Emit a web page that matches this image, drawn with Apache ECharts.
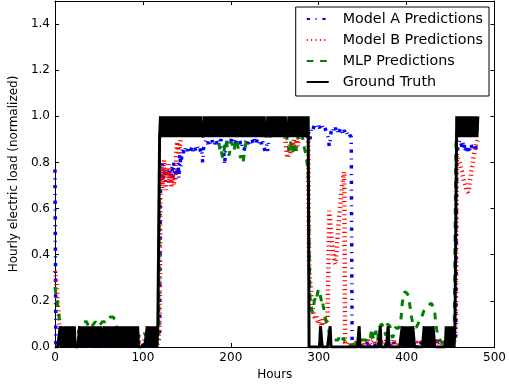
<!DOCTYPE html>
<html>
<head>
<meta charset="utf-8">
<script src="https://cdn.jsdelivr.net/npm/echarts@6/dist/echarts.min.js"></script>
<style>
  html, body { margin: 0; padding: 0; background: #fff; }
  #chart { width: 509px; height: 386px; }
</style>
</head>
<body>
<div id="chart"></div>
<script>
// Hourly normalized load, one value per hour starting at hour 0.
const seriesNames = ['Model A Predictions', 'Model B Predictions', 'MLP Predictions', 'Ground Truth'];
const xTicks = [0, 100, 200, 300, 400, 500];
const yTicks = [0.0, 0.2, 0.4, 0.6, 0.8, 1.0, 1.2, 1.4];

const modelA = [
  0.77,0.01,0.01,0,0.01,0.01,0,0.01,0.01,0.01,
  0.01,0.01,0,0.01,0.02,0.01,0.01,0,0.01,0.01,
  0.01,0,0.01,0.01,0.01,0,0.01,0.01,0.02,0.01,
  0.01,0.01,0,0.01,0.01,0.01,0.02,0.01,0.01,0,
  0.01,0.01,0.01,0,0.01,0.02,0.01,0.01,0.01,0.01,
  0,0.01,0.01,0.01,0.02,0.01,0,0.01,0.01,0.01,
  0.01,0.02,0.01,0.01,0,0.01,0.01,0.01,0.01,0.02,
  0.01,0.01,0,0.01,0.01,0.01,0.01,0.02,0.01,0,
  0.01,0.01,0.01,0.02,0.01,0.01,0,0.01,0.01,0.01,
  0.01,0,0.01,0.01,0.01,0.02,0.01,0.01,0.01,0,
  0.01,0.01,0.02,0.01,0.01,0,0.01,0.01,0.01,0.01,
  0.01,0.01,0,0.01,0.01,0.02,0.01,0.01,0.02,0.05,
  0.74,0.76,0.8,0.73,0.78,0.75,0.72,0.77,0.76,0.74,
  0.77,0.75,0.73,0.79,0.72,0.8,0.76,0.74,0.78,0.75,
  0.8,0.73,0.85,0.78,0.82,0.86,0.84,0.86,0.85,0.87,
  0.86,0.85,0.87,0.86,0.84,0.86,0.87,0.85,0.86,0.87,
  0.85,0.86,0.87,0.86,0.85,0.86,0.84,0.85,0.8,0.86,
  0.88,0.89,0.9,0.89,0.88,0.9,0.89,0.88,0.9,0.89,
  0.9,0.88,0.89,0.9,0.88,0.89,0.9,0.88,0.89,0.9,
  0.88,0.86,0.84,0.79,0.85,0.88,0.89,0.9,0.88,0.89,
  0.9,0.89,0.88,0.9,0.89,0.88,0.89,0.9,0.88,0.89,
  0.9,0.88,0.89,0.87,0.86,0.85,0.87,0.89,0.9,0.88,
  0.89,0.9,0.88,0.89,0.9,0.89,0.88,0.9,0.89,0.88,
  0.9,0.89,0.88,0.9,0.89,0.88,0.9,0.87,0.86,0.85,
  0.86,0.88,0.85,0.89,0.9,0.93,0.95,0.94,0.96,0.95,
  0.96,0.95,0.94,0.96,0.95,0.97,0.95,0.96,0.94,0.95,
  0.96,0.95,0.97,0.95,0.96,0.94,0.95,0.96,0.95,0.94,
  0.95,0.96,0.94,0.95,0.97,0.95,0.96,0.95,0.94,0.96,
  0.95,0.96,0.94,0.95,0.96,0.95,0.94,0.96,0.95,0.92,
  0.9,0.93,0.95,0.94,0.95,0.96,0.95,0.96,0.95,0.96,
  0.96,0.95,0.96,0.95,0.96,0.95,0.96,0.95,0.94,0.93,
  0.92,0.9,0.87,0.89,0.93,0.94,0.93,0.95,0.94,0.95,
  0.94,0.95,0.93,0.92,0.94,0.95,0.94,0.93,0.92,0.94,
  0.93,0.94,0.93,0.92,0.93,0.92,0.92,0.91,0.01,0.01,
  0.01,0.01,0,0.01,0.01,0.01,0.02,0.01,0.01,0.01,
  0.01,0,0.01,0.01,0.01,0.01,0.02,0.01,0.01,0,
  0.01,0.01,0.01,0.02,0.01,0.01,0,0.01,0.01,0.01,
  0.01,0.01,0,0.01,0.01,0.01,0.01,0.02,0.01,0.01,
  0.01,0.01,0.01,0,0.01,0.02,0.01,0.01,0.01,0.01,
  0.01,0,0.01,0.01,0.02,0.01,0.01,0.01,0,0.01,
  0.01,0.01,0.01,0.02,0.01,0.01,0.01,0,0.01,0.01,
  0.01,0.01,0,0.01,0.01,0.01,0.02,0.01,0.01,0.01,
  0.01,0.02,0.01,0.01,0,0.01,0.01,0.01,0.01,0.01,
  0.01,0.01,0.01,0.02,0.01,0.03,0.02,0.01,0.01,0.01,
  0.01,0.01,0.01,0,0.01,0.01,0.01,0.02,0.01,0.01,
  0.01,0.01,0.01,0.01,0.02,0.02,0.05,0.82,0.86,0.88,
  0.89,0.9,0.88,0.87,0.89,0.86,0.88,0.84,0.87,0.85,
  0.87,0.84,0.86,0.88,0.87,0.86,0.85,0.87,0.88,0.86,
  0.87,0.88
];

const modelB = [
  0.33,0.3,0.26,0.2,0.15,0.1,0.06,0.03,0.02,0.02,
  0.02,0.02,0.01,0.02,0.02,0.03,0.02,0.02,0.01,0.02,
  0.02,0.01,0.02,0.02,0.02,0.01,0.02,0.03,0.02,0.02,
  0.02,0.02,0.01,0.02,0.02,0.02,0.03,0.02,0.02,0.01,
  0.02,0.02,0.02,0.01,0.02,0.02,0.02,0.03,0.02,0.02,
  0.01,0.02,0.02,0.02,0.03,0.02,0.01,0.02,0.02,0.02,
  0.02,0.03,0.02,0.02,0.01,0.02,0.02,0.02,0.02,0.03,
  0.02,0.02,0.01,0.02,0.02,0.02,0.02,0.03,0.02,0.01,
  0.02,0.02,0.02,0.03,0.02,0.02,0.01,0.02,0.02,0.02,
  0.02,0.01,0.02,0.02,0.02,0.03,0.02,0.02,0.02,0.01,
  0.02,0.02,0.03,0.02,0.02,0.01,0.02,0.02,0.02,0.02,
  0.02,0.02,0.01,0.02,0.02,0.02,0.01,0.02,0.02,0.08,
  0.7,0.78,0.69,0.75,0.81,0.72,0.68,0.77,0.74,0.8,
  0.71,0.76,0.69,0.73,0.75,0.7,0.74,0.72,0.85,0.89,
  0.84,0.88,0.86,0.9,0.93,0.95,0.96,0.95,0.97,0.95,
  0.96,0.94,0.97,0.95,0.96,0.94,0.96,0.98,0.95,0.94,
  0.96,0.95,0.96,0.94,0.97,0.95,0.96,0.94,0.96,0.95,
  0.96,0.97,0.94,0.95,0.96,0.96,0.94,0.97,0.95,0.96,
  0.94,0.96,0.95,0.96,0.97,0.94,0.95,0.96,0.96,0.94,
  0.97,0.95,0.96,0.94,0.96,0.95,0.96,0.98,0.94,0.95,
  0.96,0.96,0.94,0.97,0.95,0.96,0.94,0.96,0.95,0.96,
  0.97,0.94,0.95,0.96,0.96,0.94,0.97,0.95,0.96,0.94,
  0.96,0.95,0.96,0.97,0.94,0.95,0.96,0.96,0.94,0.97,
  0.95,0.96,0.94,0.96,0.95,0.96,0.98,0.94,0.95,0.96,
  0.96,0.94,0.97,0.95,0.96,0.94,0.96,0.95,0.96,0.97,
  0.94,0.95,0.96,0.96,0.94,0.97,0.95,0.96,0.94,0.96,
  0.95,0.94,0.9,0.86,0.83,0.82,0.85,0.88,0.84,0.87,
  0.89,0.86,0.9,0.88,0.85,0.9,0.87,0.89,0.92,0.94,
  0.95,0.96,0.95,0.96,0.95,0.96,0.95,0.96,0.9,0.37,
  0.3,0.25,0.2,0.17,0.15,0.13,0.12,0.14,0.12,0.11,
  0.1,0.12,0.11,0.09,0.1,0.12,0.11,0.1,0.12,0.11,
  0.12,0.35,0.59,0.55,0.5,0.46,0.42,0.39,0.37,0.36,
  0.4,0.45,0.5,0.55,0.6,0.64,0.68,0.71,0.74,0.76,
  0.02,0.02,0.01,0.02,0.02,0.01,0.02,0.02,0.01,0.02,
  0.02,0.02,0.01,0.02,0.02,0.02,0.03,0.02,0.02,0.01,
  0.02,0.01,0.02,0.02,0.02,0.02,0.03,0.02,0.02,0.01,
  0.02,0.02,0.02,0.03,0.02,0.02,0.01,0.02,0.02,0.02,
  0.02,0.02,0.01,0.02,0.02,0.02,0.02,0.03,0.02,0.02,
  0.02,0.02,0.02,0.01,0.02,0.03,0.02,0.02,0.02,0.02,
  0.01,0.02,0.02,0.02,0.03,0.02,0.02,0.02,0.01,0.02,
  0.02,0.02,0.02,0.03,0.02,0.02,0.02,0.01,0.02,0.02,
  0.02,0.02,0.01,0.02,0.02,0.02,0.03,0.02,0.02,0.02,
  0.02,0.03,0.02,0.02,0.01,0.02,0.02,0.02,0.02,0.02,
  0.02,0.02,0.02,0.03,0.02,0.02,0.02,0.02,0.01,0.02,
  0.02,0.02,0.02,0.01,0.02,0.02,0.02,0.03,0.02,0.02,
  0.02,0.02,0.02,0.02,0.02,0.02,0.1,0.84,0.82,0.81,
  0.8,0.79,0.77,0.76,0.74,0.72,0.71,0.7,0.68,0.68,
  0.67,0.69,0.72,0.74,0.77,0.79,0.82,0.84,0.86,0.88,
  0.89,0.9
];

const mlp = [
  0.26,0.23,0.21,0.18,0.15,0.12,0.09,0.07,0.06,0.06,
  0.06,0.05,0.06,0.05,0.06,0.07,0.06,0.05,0.06,0.06,
  0.05,0.06,0.06,0.06,0.06,0.05,0.06,0.07,0.08,0.08,
  0.09,0.1,0.1,0.11,0.11,0.11,0.11,0.1,0.09,0.09,
  0.08,0.08,0.09,0.09,0.1,0.1,0.11,0.11,0.1,0.09,
  0.09,0.09,0.1,0.1,0.11,0.11,0.11,0.11,0.12,0.12,
  0.12,0.12,0.12,0.13,0.13,0.13,0.13,0.13,0.12,0.11,
  0.09,0.08,0.07,0.07,0.06,0.06,0.06,0.05,0.06,0.06,
  0.05,0.06,0.05,0.05,0.06,0.05,0.05,0.06,0.05,0.05,
  0.05,0.05,0.06,0.05,0.05,0.04,0.05,0.05,0.05,0.06,
  0.05,0.05,0.06,0.05,0.05,0.06,0.05,0.06,0.06,0.05,
  0.06,0.05,0.06,0.06,0.05,0.06,0.06,0.05,0.06,0.9,
  0.93,0.94,0.95,0.94,0.96,0.95,0.94,0.96,0.95,0.94,
  0.95,0.96,0.94,0.95,0.96,0.95,0.94,0.95,0.96,0.95,
  0.94,0.95,0.96,0.95,0.94,0.95,0.96,0.95,0.94,0.95,
  0.96,0.95,0.94,0.95,0.96,0.95,0.94,0.95,0.96,0.95,
  0.94,0.95,0.96,0.95,0.94,0.95,0.96,0.95,0.97,0.95,
  0.94,0.95,0.96,0.95,0.94,0.95,0.96,0.95,0.94,0.95,
  0.95,0.94,0.95,0.93,0.94,0.92,0.9,0.87,0.85,0.86,
  0.83,0.82,0.84,0.87,0.89,0.9,0.86,0.84,0.83,0.85,
  0.88,0.89,0.87,0.85,0.86,0.88,0.9,0.89,0.87,0.85,
  0.84,0.82,0.83,0.81,0.8,0.83,0.86,0.88,0.9,0.92,
  0.93,0.94,0.95,0.94,0.95,0.96,0.95,0.94,0.95,0.96,
  0.95,0.94,0.95,0.96,0.95,0.94,0.95,0.96,0.95,0.94,
  0.95,0.96,0.95,0.94,0.95,0.96,0.95,0.94,0.95,0.96,
  0.95,0.94,0.95,0.96,0.95,0.94,0.95,0.96,0.95,0.94,
  0.95,0.94,0.93,0.92,0.9,0.88,0.85,0.87,0.89,0.86,
  0.84,0.86,0.88,0.87,0.85,0.88,0.9,0.92,0.94,0.93,
  0.93,0.92,0.9,0.87,0.86,0.84,0.82,0.79,0.75,0.45,
  0.22,0.19,0.16,0.15,0.17,0.2,0.21,0.2,0.22,0.24,
  0.25,0.24,0.22,0.2,0.21,0.18,0.16,0.13,0.12,0.1,
  0.1,0.08,0.06,0.05,0.04,0.04,0.03,0.03,0.03,0.03,
  0.03,0.03,0.03,0.04,0.03,0.03,0.02,0.03,0.04,0.03,
  0.03,0.02,0.02,0.02,0.02,0.01,0.01,0.01,0.01,0.01,
  0.01,0.01,0.02,0.02,0.02,0.02,0.02,0.02,0.03,0.03,
  0.03,0.03,0.03,0.03,0.03,0.03,0.03,0.02,0.03,0.04,
  0.08,0.06,0.04,0.03,0.05,0.07,0.05,0.03,0.06,0.08,
  0.09,0.1,0.1,0.1,0.09,0.07,0.05,0.08,0.1,0.1,
  0.1,0.09,0.07,0.05,0.04,0.04,0.06,0.085,0.085,0.08,
  0.08,0.085,0.09,0.1,0.14,0.19,0.21,0.23,0.24,0.24,
  0.24,0.23,0.22,0.2,0.17,0.14,0.12,0.1,0.09,0.085,
  0.085,0.085,0.09,0.1,0.11,0.115,0.115,0.12,0.14,0.15,
  0.16,0.16,0.17,0.17,0.17,0.18,0.18,0.18,0.19,0.19,
  0.19,0.17,0.15,0.11,0.08,0.06,0.05,0.04,0.03,0.03,
  0.02,0.02,0.02,0.02,0.03,0.02,0.02,0.02,0.02,0.02,
  0.02,0.02,0.02,0.02,0.02,0.02,0.87,0.93,0.94,0.95,
  0.94,0.95,0.96,0.95,0.94,0.95,0.96,0.95,0.94,0.95,
  0.96,0.95,0.94,0.95,0.96,0.95,0.94,0.95,0.96,0.95,
  0.94,0.95
];

const groundTruth = [
  0,0,0,0,0,0,0.09,0,0.09,0,
  0.09,0,0.09,0,0.09,0,0.09,0,0.09,0,
  0.09,0,0.09,0,0,0,0,0,0.09,0,
  0.09,0,0.09,0,0.09,0,0.09,0,0.09,0,
  0.09,0,0.09,0,0.09,0,0.09,0,0.09,0,
  0.09,0,0.09,0,0,0,0.09,0,0.09,0,
  0.09,0,0.09,0,0.09,0,0.09,0,0.09,0,
  0.09,0,0.09,0,0.09,0,0.09,0,0.09,0,
  0.09,0,0.09,0,0.09,0,0.09,0,0.09,0,
  0.09,0,0.09,0,0.09,0,0,0,0,0,
  0,0.01,0,0,0,0.09,0,0.09,0,0.09,
  0,0.09,0,0.09,0,0.09,0,0.09,0.09,0.91,
  1,0.91,1,0.91,1,0.91,1,0.91,1,0.91,
  1,0.91,1,0.91,1,0.91,1,0.91,1,0.91,
  1,0.91,1,0.91,1,0.91,1,0.91,1,0.91,
  1,0.91,1,0.91,1,0.91,1,0.91,1,0.91,
  1,0.91,1,0.91,1,0.91,1,0.91,0.92,0.91,
  1,0.91,1,0.91,1,0.91,1,0.91,1,0.91,
  1,0.91,1,0.91,1,0.91,1,0.91,1,0.91,
  1,0.91,1,0.91,1,0.91,1,0.91,1,0.91,
  1,0.91,1,0.91,1,0.91,1,0.91,1,0.91,
  1,0.91,1,0.91,1,0.91,1,0.91,1,0.91,
  1,0.91,1,0.91,1,0.91,1,0.91,1,0.91,
  1,0.91,1,0.91,1,0.91,1,0.91,1,0.91,
  0.92,0.91,1,0.91,1,0.91,1,0.91,1,0.91,
  1,0.91,1,0.91,1,0.91,1,0.91,1,0.91,
  1,0.91,1,0.91,0.92,0.91,1,0.91,1,0.91,
  1,0.91,1,0.91,1,0.91,1,0.91,1,0.91,
  1,0.91,1,0.91,1,0.91,1,0.91,1,0,
  0,0,0,0,0,0,0,0,0,0,
  0,0,0.09,0.09,0,0,0,0,0,0,
  0,0,0,0.09,0,0,0,0,0,0,
  0,0,0,0,0,0,0,0,0,0,
  0,0,0,0,0,0,0,0,0,0,
  0,0,0,0,0,0,0.09,0,0,0,
  0,0,0,0,0,0,0,0,0,0,
  0,0,0,0,0,0,0,0,0,0,
  0.09,0,0,0,0,0,0,0,0,0.09,
  0,0,0,0,0,0,0,0,0,0,
  0,0,0,0,0,0.09,0,0.09,0,0.09,
  0,0.09,0,0.09,0,0.09,0,0.09,0.09,0,
  0,0,0,0,0,0,0,0,0,0,
  0.09,0,0.09,0,0.09,0,0.09,0,0.09,0,
  0.09,0.09,0,0,0,0,0,0,0,0,
  0,0,0,0,0,0.09,0,0.09,0,0.09,
  0,0.09,0,0.09,0,0.09,0.09,1,0.91,1,
  0.91,1,0.91,1,0.91,1,0.91,1,0.91,1,
  0.91,1,0.91,1,0.91,1,0.91,1,0.91,1,
  0.91,1
];

const FONT = 'DejaVu Sans';
const toPairs = arr => arr.map((v, i) => [i, v]);

const seriesStyle = [
  { data: modelA, color: '#0000ff', width: 3.5, dash: [3.3, 5.6, 1.1, 5.6] },
  { data: modelB, color: '#ff0000', width: 4.5, dash: [1.1, 3.3] },
  { data: mlp, color: '#008000', width: 3, dash: [6.7, 6.7] },
  { data: groundTruth, color: '#000000', width: 3, dash: 'solid' }
];

const chart = echarts.init(document.getElementById('chart'), null, { renderer: 'canvas' });

const xAxisBase = {
  type: 'value', min: xTicks[0], max: xTicks[xTicks.length - 1], interval: xTicks[1] - xTicks[0],
  axisLine: { show: true, onZero: false, lineStyle: { color: '#000', width: 1 } },
  axisTick: { show: true, inside: true, length: 4, lineStyle: { color: '#000', width: 1 } },
  splitLine: { show: false }
};
const yAxisBase = {
  type: 'value', min: 0, max: 1.5, interval: yTicks[1] - yTicks[0],
  axisLine: { show: true, onZero: false, lineStyle: { color: '#000', width: 1 } },
  axisTick: { show: true, inside: true, length: 4, lineStyle: { color: '#000', width: 1 } },
  splitLine: { show: false }
};

chart.setOption({
  animation: false,
  backgroundColor: '#fff',
  grid: { left: 50, top: 1, width: 445, height: 346, containLabel: false },
  xAxis: [
    Object.assign({}, xAxisBase, {
      position: 'bottom',
      axisLabel: { color: '#000', fontSize: 12, fontFamily: FONT, margin: 5 },
      name: 'Hours', nameLocation: 'middle', nameGap: 19,
      nameTextStyle: { color: '#000', fontSize: 12, fontFamily: FONT }
    }),
    Object.assign({}, xAxisBase, { position: 'top', axisLabel: { show: false } })
  ],
  yAxis: [
    Object.assign({}, yAxisBase, {
      position: 'left',
      axisLabel: {
        color: '#000', fontSize: 12, fontFamily: FONT, margin: 5,
        formatter: v => (yTicks.some(t => Math.abs(t - v) < 1e-6) ? v.toFixed(1) : '')
      },
      name: 'Hourly electric load (normalized)', nameLocation: 'middle', nameGap: 22, nameRotate: 90,
      nameTextStyle: { color: '#000', fontSize: 12, fontFamily: FONT }
    }),
    Object.assign({}, yAxisBase, { position: 'right', axisLabel: { show: false } })
  ],
  legend: {
    data: seriesNames,
    orient: 'vertical',
    right: 20, top: 7,
    itemWidth: 22, itemHeight: 14, itemGap: 7,
    padding: [5, 6, 7, 10],
    borderColor: '#000', borderWidth: 1, borderRadius: 0,
    backgroundColor: '#fff',
    itemStyle: { opacity: 0 },
    textStyle: { color: '#000', fontSize: 14.3, fontFamily: FONT, padding: [0, 0, 0, 9] }
  },
  series: seriesStyle.map((s, i) => ({
    name: seriesNames[i],
    type: 'line',
    data: toPairs(s.data),
    symbol: 'none',
    showSymbol: false,
    sampling: null,
    z: 2 + i,
    itemStyle: { color: s.color },
    lineStyle: { color: s.color, width: s.width, type: s.dash, cap: 'butt' }
  }))
});
</script>
</body>
</html>
